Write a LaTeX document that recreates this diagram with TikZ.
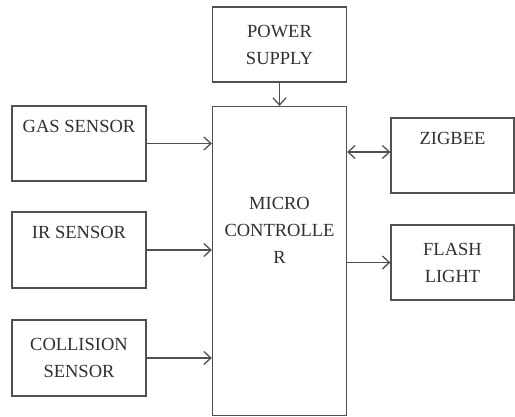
\documentclass[tikz,border=0pt]{standalone}
\usepackage{fontspec}
\setmainfont{Liberation Serif}
\usepackage{xcolor}
\usetikzlibrary{arrows.meta, positioning, calc}

\definecolor{linegray}{HTML}{505050}
\definecolor{textgray}{HTML}{303030}

\tikzset{
    block/.style={draw=linegray, line width=1.3pt, rectangle, align=center,
        text=textgray, font=\fontsize{18.5}{27}\selectfont,
        minimum width=134pt, minimum height=75pt, inner sep=0pt},
    flow/.style={->, draw=linegray, line width=1.3pt}
}

\begin{document}
\begin{tikzpicture}[x=1pt, y=-1pt, >={Straight Barb[length=7pt, width=13pt]}]
        \useasboundingbox (0,0) rectangle (515,417);

        % Power supply and controller
        \node[block] (power) at (279.5,44.5) {POWER\\SUPPLY};
        \node[block, minimum height=309pt] (micro) at (279.5,261) {MICRO\\CONTROLLE\\R\\ \strut\\ \strut};

        % Sensors on the left
        \node[block] (gas) at (79,143.5) {GAS SENSOR\\ \strut};
        \node[block, minimum height=76pt] (ir) at (79,250) {IR SENSOR\\ \strut};
        \node[block, minimum height=76pt] (coll) at (79,358) {COLLISION\\SENSOR};

        % Outputs on the right
        \node[block, minimum width=123pt] (zigbee) at (452.5,155.5) {ZIGBEE\\ \strut};
        \node[block, minimum width=123pt] (flash) at (452.5,262.5) {FLASH\\LIGHT};

        % Connections
        \draw[flow] (power) -- (micro);
        \draw[flow] (gas.east) -- (gas.east -| micro.west);
        \draw[flow] (ir.east) -- (ir.east -| micro.west);
        \draw[flow] (coll.east) -- (coll.east -| micro.west);
        \draw[flow, <->] ([yshift=3.5pt]zigbee.west -| micro.east) -- ([yshift=3.5pt]zigbee.west);
        \draw[flow] (flash.west -| micro.east) -- (flash.west);
    \end{tikzpicture}
\end{document}
